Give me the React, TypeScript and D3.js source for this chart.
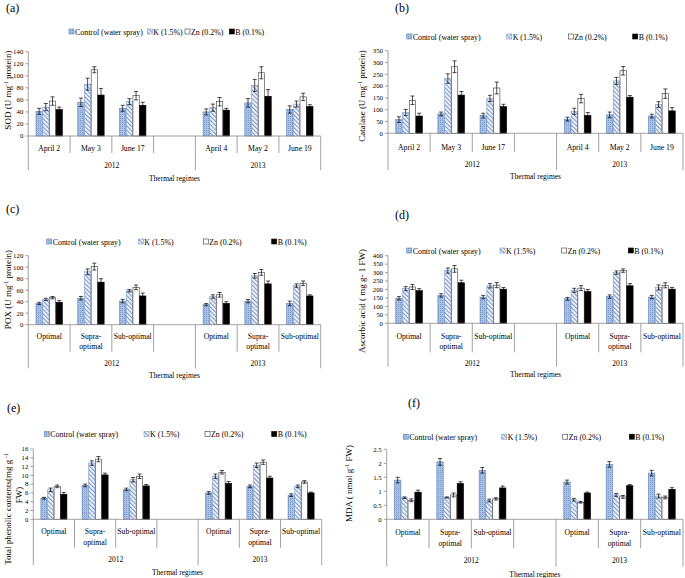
import React from 'react'
import * as d3 from 'd3'

// legend / series
const seriesNames = ['Control (water spray)', 'K (1.5%)', 'Zn (0.2%)', 'B (0.1%)']
const years = ['2012', '2013']
const datesCats = ['April 2', 'May 3', 'June 17', 'April 4', 'May 2', 'June 19']
const regimeCats = ['Optimal', 'Supra-|optimal', 'Sub-optimal', 'Optimal', 'Supra-|optimal', 'Sub-optimal']
const slotKeys = ['c0', 'c1', 'c2', 'gap', 'c3', 'c4', 'c5']

// rows = series (Control, K, Zn, B), columns = the six categories
const sodMeans = [
  [41, 56, 46, 40, 55, 44],
  [48, 86, 57, 47, 84, 53],
  [58, 110, 67, 57, 105, 65],
  [44, 68, 51, 43, 66, 49],
]
const sodErrors = [
  [5, 7, 5, 5, 7, 6],
  [6, 10, 5, 6, 10, 5],
  [7, 5, 7, 7, 10, 6],
  [4, 11, 5, 3, 11, 3],
]

const catMeans = [
  [58, 82, 75, 60, 78, 73],
  [88, 232, 148, 93, 222, 122],
  [140, 282, 192, 147, 265, 168],
  [73, 162, 113, 76, 153, 95],
]
const catErrors = [
  [12, 8, 10, 8, 12, 8],
  [13, 20, 13, 13, 15, 12],
  [18, 25, 25, 18, 18, 20],
  [12, 15, 10, 12, 7, 14],
]

const poxMeans = [
  [37, 46, 41, 35, 41, 37],
  [44, 92, 59, 49, 85, 68],
  [47, 101, 65, 52, 91, 72],
  [39, 74, 50, 37, 71, 50],
]
const poxErrors = [
  [2, 3, 3, 2, 3, 4],
  [2, 5, 2, 3, 4, 3],
  [2, 6, 4, 4, 5, 4],
  [3, 6, 5, 3, 5, 2],
]

const ascMeans = [
  [148, 165, 155, 145, 158, 155],
  [205, 312, 222, 195, 300, 212],
  [215, 322, 226, 208, 312, 225],
  [193, 240, 202, 188, 222, 202],
]
const ascErrors = [
  [10, 10, 10, 8, 10, 10],
  [12, 15, 13, 12, 10, 15],
  [15, 20, 15, 15, 10, 15],
  [12, 15, 10, 12, 13, 10],
]

const tpcMeans = [
  [4.8, 7.7, 6.8, 6.0, 7.5, 5.5],
  [6.7, 12.8, 9.0, 9.8, 12.3, 7.5],
  [7.5, 13.7, 9.8, 10.7, 13.0, 8.5],
  [5.7, 10.1, 7.6, 8.2, 9.4, 6.0],
]
const tpcErrors = [
  [0.2, 0.3, 0.3, 0.3, 0.3, 0.3],
  [0.4, 0.5, 0.5, 0.5, 0.5, 0.3],
  [0.3, 0.6, 0.5, 0.4, 0.5, 0.3],
  [0.4, 0.4, 0.3, 0.4, 0.4, 0.2],
]

const mdaMeans = [
  [1.4, 2.05, 1.75, 1.33, 1.96, 1.65],
  [0.77, 0.78, 0.67, 0.7, 0.87, 0.83],
  [0.68, 0.87, 0.73, 0.61, 0.8, 0.78],
  [0.97, 1.28, 1.12, 0.94, 1.2, 1.07],
]
const mdaErrors = [
  [0.1, 0.12, 0.1, 0.07, 0.1, 0.1],
  [0.03, 0.02, 0.05, 0.05, 0.05, 0.07],
  [0.05, 0.07, 0.04, 0.03, 0.05, 0.05],
  [0.07, 0.06, 0.07, 0.03, 0.04, 0.06],
]

type Seg = [string, boolean?]

interface PanelCfg {
  label: string
  labelX: number
  labelY: number
  means: number[][]
  errors: number[][]
  cats: string[]
  yMax: number
  yStep: number
  x0: number
  x1: number
  yBase: number
  yTop: number
  title: Seg[][]
  titleX: number[]
  titleY: number[]
  catBase: number
  catLine2: number
  sepInner: number
  sepOuter: number
  yearBase: number
  regimeBase: number
  legendBase: number
  legendX: number[]
}

const panels: PanelCfg[] = [
  {
    label: '(a)', labelX: 6, labelY: 12,
    means: sodMeans, errors: sodErrors, cats: datesCats,
    yMax: 140, yStep: 20, x0: 28.3, x1: 320.7, yBase: 136, yTop: 51.7,
    title: [[['SOD (U mg'], ['-1', true], [' protein)']]], titleX: [11], titleY: [90],
    catBase: 150.5, catLine2: 0, sepInner: 153, sepOuter: 170,
    yearBase: 167.5, regimeBase: 181, legendBase: 34.5, legendX: [69, 147.3, 185, 229.3],
  },
  {
    label: '(b)', labelX: 395, labelY: 12,
    means: catMeans, errors: catErrors, cats: datesCats,
    yMax: 350, yStep: 50, x0: 388, x1: 683, yBase: 133.3, yTop: 50.7,
    title: [[['Catalase (U mg'], ['-1', true], [' protein)']]], titleX: [365], titleY: [96],
    catBase: 150, catLine2: 0, sepInner: 152, sepOuter: 170,
    yearBase: 167, regimeBase: 178.5, legendBase: 39.5, legendX: [406.7, 506.7, 568.3, 632.7],
  },
  {
    label: '(c)', labelX: 6, labelY: 213,
    means: poxMeans, errors: poxErrors, cats: regimeCats,
    yMax: 120, yStep: 20, x0: 28.3, x1: 320.7, yBase: 324.7, yTop: 255.7,
    title: [[['POX (U mg'], ['-1', true], [' protein)']]], titleX: [11], titleY: [289.5],
    catBase: 338.7, catLine2: 348.7, sepInner: 351.7, sepOuter: 368.3,
    yearBase: 366, regimeBase: 377.7, legendBase: 244.5, legendX: [46.7, 138.3, 203.3, 271.7],
  },
  {
    label: '(d)', labelX: 395, labelY: 219,
    means: ascMeans, errors: ascErrors, cats: regimeCats,
    yMax: 400, yStep: 50, x0: 388, x1: 683, yBase: 323.3, yTop: 255.7,
    title: [[['Ascorbic acid ( mg  g- 1 FW)']]], titleX: [365], titleY: [301],
    catBase: 339, catLine2: 348.5, sepInner: 352.3, sepOuter: 366.7,
    yearBase: 366, regimeBase: 377, legendBase: 253.5, legendX: [406.7, 500, 561.7, 628.3],
  },
  {
    label: '(e)', labelX: 7, labelY: 411.5,
    means: tpcMeans, errors: tpcErrors, cats: regimeCats,
    yMax: 16, yStep: 2, x0: 33.3, x1: 321.7, yBase: 519.3, yTop: 449,
    title: [[['Total phenolic contents(mg g'], [' -1', true]], [['FW)']]], titleX: [11, 22], titleY: [509, 495],
    catBase: 534.3, catLine2: 545, sepInner: 547.7, sepOuter: 565,
    yearBase: 561.5, regimeBase: 574.5, legendBase: 437, legendX: [44.3, 144, 205, 271.7],
  },
  {
    label: '(f)', labelX: 408, labelY: 406.5,
    means: mdaMeans, errors: mdaErrors, cats: regimeCats,
    yMax: 2.5, yStep: 0.5, x0: 386.7, x1: 683, yBase: 519.3, yTop: 449.3,
    title: [[['MDA ( nmol g'], ['-1', true], [' FW)']]], titleX: [352], titleY: [483.5],
    catBase: 535.3, catLine2: 546, sepInner: 548.3, sepOuter: 566.7,
    yearBase: 563, regimeBase: 577, legendBase: 439.7, legendX: [403.3, 501.7, 562.7, 629.3],
  },
]

const FONT = '"Liberation Serif", "Times New Roman", serif'
const AXIS = '#8c8c8c'
const fills = ['url(#ctrlPat)', 'url(#kPat)', '#ffffff', '#000000']
const strokes = ['#5b7fb8', '#7d9bcd', '#3a3a3a', '#000000']

function TitleText({ segs, x, y }: { segs: Seg[]; x: number; y: number }) {
  return (
    <text transform={`translate(${x},${y}) rotate(-90)`} textAnchor="middle" fontSize={9} fontFamily={FONT} fill="#000">
      {segs.map(([t, sup], i) => {
        const prevSup = i > 0 && segs[i - 1][1]
        return (
          <tspan key={i} dy={sup ? -3 : prevSup ? 3 : 0} fontSize={sup ? 6 : 9}>{t}</tspan>
        )
      })}
    </text>
  )
}

function Panel({ cfg }: { cfg: PanelCfg }) {
  const y = d3.scaleLinear().domain([0, cfg.yMax]).range([cfg.yBase, cfg.yTop])
  const xSlot = d3.scaleBand<string>().domain(slotKeys).range([cfg.x0, cfg.x1]).paddingInner(0).paddingOuter(0)
  const xInner = d3.scaleBand<number>().domain([0, 1, 2, 3]).range([0, xSlot.bandwidth()]).paddingInner(0.06).paddingOuter(1.15)
  const ticks = d3.range(0, cfg.yMax + cfg.yStep / 2, cfg.yStep)
  const catSlots = slotKeys.filter(k => k !== 'gap')
  const edges = d3.range(slotKeys.length + 1).map(i => cfg.x0 + i * xSlot.step())
  const outerEdges = [0, 4, 7]
  const bw = xInner.bandwidth()
  const yearCenters = [(edges[0] + edges[4]) / 2, (edges[4] + edges[7]) / 2]

  return (
    <g>
      <text x={cfg.labelX} y={cfg.labelY} fontSize={12} fontFamily={FONT}>{cfg.label}</text>

      {/* legend */}
      {seriesNames.map((name, s) => (
        <g key={name}>
          <rect x={cfg.legendX[s]} y={cfg.legendBase - 5.5} width={5} height={5} fill={fills[s]} stroke={strokes[s]} strokeWidth={0.6} />
          <text x={cfg.legendX[s] + 6} y={cfg.legendBase} fontSize={7.9} fontFamily={FONT}>{name}</text>
        </g>
      ))}

      {/* y axis */}
      <line x1={cfg.x0} x2={cfg.x0} y1={cfg.yBase} y2={y(cfg.yMax)} stroke={AXIS} strokeWidth={0.8} />
      {ticks.map(t => (
        <g key={t}>
          <line x1={cfg.x0 - 3} x2={cfg.x0} y1={y(t)} y2={y(t)} stroke={AXIS} strokeWidth={0.8} />
          <text x={cfg.x0 - 5} y={y(t) + 2.3} textAnchor="end" fontSize={6.8} fontFamily={FONT}>{String(t)}</text>
        </g>
      ))}
      {cfg.title.map((segs, i) => (
        <TitleText key={i} segs={segs} x={cfg.titleX[i]} y={cfg.titleY[i]} />
      ))}

      {/* bars */}
      {cfg.means.map((row, s) => (
        <g key={s}>
          {row.map((v, i) => {
            const bx = (xSlot(catSlots[i]) ?? 0) + (xInner(s) ?? 0)
            const top = y(v)
            return (
              <rect key={i} x={bx} y={top} width={bw} height={cfg.yBase - top} fill={fills[s]} stroke={strokes[s]} strokeWidth={0.6} />
            )
          })}
        </g>
      ))}

      {/* error bars */}
      {cfg.means.map((row, s) => (
        <g key={s} stroke="#000" strokeWidth={0.7}>
          {row.map((v, i) => {
            const cx = (xSlot(catSlots[i]) ?? 0) + (xInner(s) ?? 0) + bw / 2
            const e = cfg.errors[s][i]
            const yHi = y(v + e)
            const yLo = y(v - e)
            return (
              <g key={i}>
                <line x1={cx} x2={cx} y1={yHi} y2={yLo} />
                <line x1={cx - 2} x2={cx + 2} y1={yHi} y2={yHi} />
                <line x1={cx - 2} x2={cx + 2} y1={yLo} y2={yLo} />
              </g>
            )
          })}
        </g>
      ))}

      {/* x axis */}
      <line x1={cfg.x0} x2={cfg.x1} y1={cfg.yBase} y2={cfg.yBase} stroke={AXIS} strokeWidth={0.8} />
      {edges.map((ex, i) => (
        <line key={i} x1={ex} x2={ex} y1={cfg.yBase} y2={outerEdges.includes(i) ? cfg.sepOuter : cfg.sepInner} stroke={AXIS} strokeWidth={0.8} />
      ))}
      {cfg.cats.map((c, i) => {
        const cx = (xSlot(catSlots[i]) ?? 0) + xSlot.bandwidth() / 2
        const lines = c.split('|')
        return (
          <text key={i} textAnchor="middle" fontSize={7.7} fontFamily={FONT}>
            {lines.map((ln, j) => (
              <tspan key={j} x={cx} y={j === 0 ? cfg.catBase : cfg.catLine2}>{ln}</tspan>
            ))}
          </text>
        )
      })}
      {years.map((yr, i) => (
        <text key={yr} x={yearCenters[i]} y={cfg.yearBase} textAnchor="middle" fontSize={7.5} fontFamily={FONT}>{yr}</text>
      ))}
      <text x={(cfg.x0 + cfg.x1) / 2} y={cfg.regimeBase} textAnchor="middle" fontSize={7.5} fontFamily={FONT}>Thermal regimes</text>
    </g>
  )
}

export default function App() {
  return (
    <svg width={685} height={578} style={{ position: 'absolute', left: 0, top: 0, background: '#fff' }}>
      <defs>
        <pattern id="ctrlPat" patternUnits="userSpaceOnUse" width={2} height={2}>
          <rect width={2} height={2} fill="#a9c0e2" />
          <rect width={1} height={1} fill="#7f9fcf" />
        </pattern>
        <pattern id="kPat" patternUnits="userSpaceOnUse" width={3} height={3} patternTransform="rotate(-45)">
          <rect width={3} height={3} fill="#ffffff" />
          <rect width={1.3} height={3} fill="#7d9bcd" />
        </pattern>
      </defs>
      <rect width={685} height={578} fill="#fff" />
      {panels.map(p => (
        <Panel key={p.label} cfg={p} />
      ))}
    </svg>
  )
}
